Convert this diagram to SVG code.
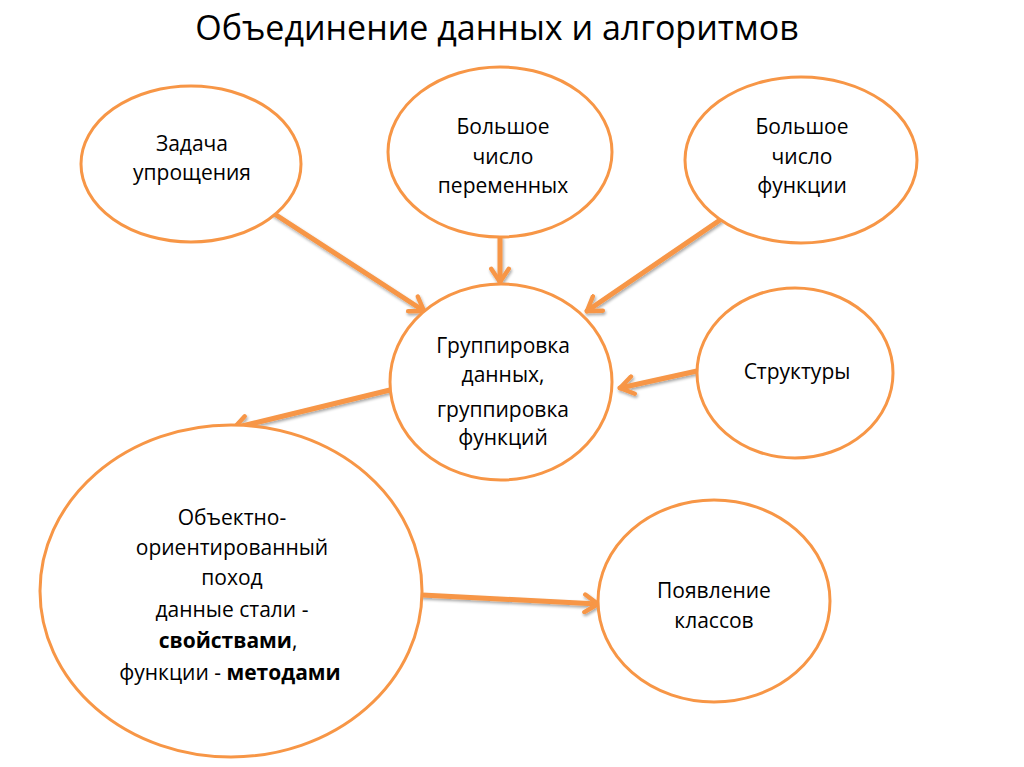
<svg xmlns="http://www.w3.org/2000/svg" width="1024" height="767" viewBox="0 0 1024 767">
<style>
.node{fill:#fff;stroke:#F79646;stroke-width:3}
.t{font-family:"Open Sans","Noto Sans","Liberation Sans",sans-serif;font-size:21px;fill:#000;text-anchor:middle}
.b{font-weight:bold}
.title{font-family:"Open Sans","Noto Sans","Liberation Sans",sans-serif;font-size:34px;fill:#000;text-anchor:middle}
.c{stroke:#F79646;stroke-width:5;fill:none;stroke-linecap:round;marker-end:url(#ah);filter:url(#sh)}
</style>
<defs>
<marker id="ah" viewBox="0 0 10 10" refX="8" refY="5" markerWidth="4.4" markerHeight="4.4" orient="auto" markerUnits="strokeWidth">
<polyline points="2,1 8,5 2,9" fill="none" stroke="#F79646" stroke-width="2" stroke-linecap="round" stroke-linejoin="round"/>
</marker>
<filter id="sh" filterUnits="userSpaceOnUse" x="0" y="0" width="1024" height="767">
<feGaussianBlur in="SourceAlpha" stdDeviation="1.5"/>
<feOffset dx="1" dy="2" result="o"/>
<feComponentTransfer><feFuncA type="linear" slope="0.35"/></feComponentTransfer>
<feMerge><feMergeNode/><feMergeNode in="SourceGraphic"/></feMerge>
</filter>
</defs>
<rect width="1024" height="767" fill="#fff"/>
<text class="title" x="497" y="40">Объединение данных и алгоритмов</text>
<g id="connectors">
<line class="c" x1="273" y1="213" x2="424" y2="311"/>
<line class="c" x1="500" y1="238" x2="500" y2="282"/>
<line class="c" x1="720" y1="220" x2="587" y2="311"/>
<line class="c" x1="697" y1="371" x2="620" y2="388"/>
<line class="c" x1="390" y1="390" x2="234" y2="428"/>
<line class="c" x1="422" y1="595" x2="598" y2="604"/>
</g>
<g id="n1"><ellipse class="node" cx="191" cy="164" rx="110" ry="78"/>
<text class="t" x="192" y="151">Задача</text><text class="t" x="192" y="180">упрощения</text></g>
<g id="n2"><ellipse class="node" cx="500" cy="152" rx="112" ry="85"/>
<text class="t" x="503" y="134">Большое</text><text class="t" x="503" y="164">число</text><text class="t" x="503" y="193">переменных</text></g>
<g id="n3"><ellipse class="node" cx="801" cy="160" rx="116" ry="83"/>
<text class="t" x="802" y="134">Большое</text><text class="t" x="802" y="164">число</text><text class="t" x="802" y="193">функции</text></g>
<g id="n4"><ellipse class="node" cx="501" cy="382" rx="111" ry="98"/>
<text class="t" x="503" y="353">Группировка</text><text class="t" x="503" y="382">данных,</text><text class="t" x="503" y="417">группировка</text><text class="t" x="503" y="445">функций</text></g>
<g id="n5"><ellipse class="node" cx="795" cy="373" rx="98" ry="85"/>
<text class="t" x="797" y="379">Структуры</text></g>
<g id="n6"><ellipse class="node" cx="231" cy="591" rx="191" ry="166"/>
<text class="t" x="232" y="525">Объектно-</text><text class="t" x="232" y="555">ориентированный</text><text class="t" x="232" y="585">поход</text><text class="t" x="232" y="617">данные стали -</text><text class="t" x="228" y="648"><tspan class="b">свойствами</tspan>,</text><text class="t" x="230" y="680">функции - <tspan class="b">методами</tspan></text></g>
<g id="n7"><ellipse class="node" cx="714" cy="601" rx="116" ry="101"/>
<text class="t" x="714" y="598">Появление</text><text class="t" x="714" y="628">классов</text></g>
</svg>
